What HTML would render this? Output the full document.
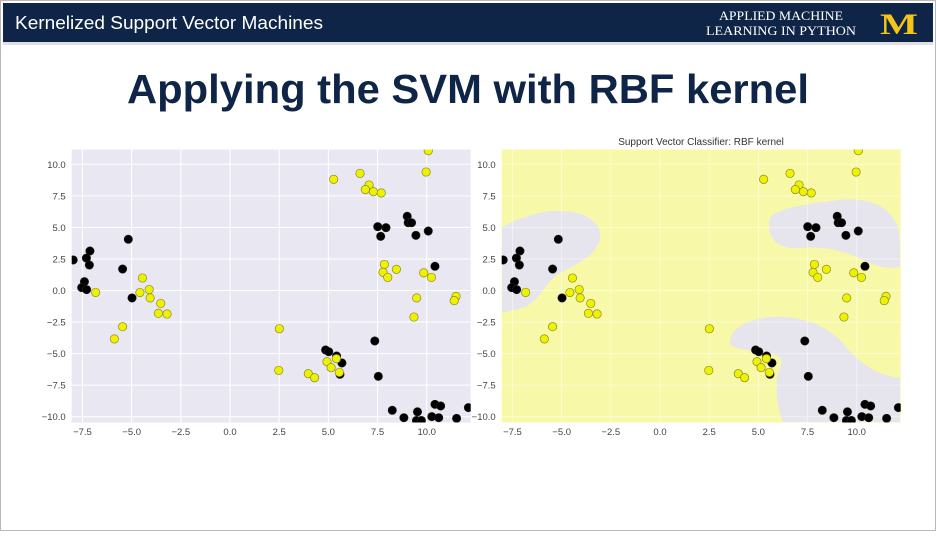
<!DOCTYPE html>
<html><head><meta charset="utf-8">
<style>
html,body{margin:0;padding:0;background:#fff;}
body{width:936px;height:531px;position:relative;overflow:hidden;font-family:"Liberation Sans",sans-serif;}
</style></head>
<body>
<svg width="936" height="531" viewBox="0 0 936 531" xmlns="http://www.w3.org/2000/svg">
  <rect x="0.5" y="0.5" width="935" height="530" fill="#fff" stroke="#b8b8b8"/>
  <rect x="3" y="3" width="930" height="39" fill="#0f2547"/>
  <rect x="3" y="42" width="930" height="3" fill="#c9ccd2" opacity="0.6"/>
  <text x="15" y="29" fill="#fff" font-size="18" textLength="308" lengthAdjust="spacingAndGlyphs">Kernelized Support Vector Machines</text>
  <text x="781" y="20" fill="#fff" font-size="12.5" text-anchor="middle" font-family="Liberation Serif,serif" textLength="124" lengthAdjust="spacingAndGlyphs">APPLIED MACHINE</text>
  <text x="781" y="35" fill="#fff" font-size="12.5" text-anchor="middle" font-family="Liberation Serif,serif" textLength="150" lengthAdjust="spacingAndGlyphs">LEARNING IN PYTHON</text>
  <text x="899" y="34" fill="#f5c518" font-size="30" font-weight="bold" text-anchor="middle" font-family="Liberation Serif,serif" textLength="38" lengthAdjust="spacingAndGlyphs">M</text>
  <text x="468" y="103" fill="#0f2547" font-size="41" font-weight="bold" text-anchor="middle" textLength="682" lengthAdjust="spacingAndGlyphs">Applying the SVM with RBF kernel</text>
  <text x="701" y="145" fill="#333" font-size="10" text-anchor="middle">Support Vector Classifier: RBF kernel</text>
  <g id="left"></g>
  <g id="right"></g>
</svg>
<script>
const xTicks = [-7.5,-5.0,-2.5,0.0,2.5,5.0,7.5,10.0];
const yTicks = [-10.0,-7.5,-5.0,-2.5,0.0,2.5,5.0,7.5,10.0];
const class0X = [-7.97,-5.17,-7.12,-7.30,-7.15,-5.46,-7.40,-7.54,-7.29,-4.98,9.01,9.06,9.23,7.51,7.93,7.66,9.45,10.08,10.42,7.36,4.86,5.02,5.42,5.69,5.59,7.54,8.25,8.84,9.53,9.48,9.73,10.26,10.42,10.71,10.61,11.52,12.12];
const class0Y = [2.42,4.06,3.13,2.57,2.02,1.70,0.70,0.23,0.07,-0.59,5.88,5.37,5.37,5.06,4.98,4.29,4.37,4.71,1.92,-4.0,-4.71,-4.85,-5.19,-5.74,-6.64,-6.80,-9.49,-10.08,-9.61,-10.3,-10.3,-9.99,-9.02,-9.15,-10.08,-10.13,-9.28];
const class1X = [-6.83,-4.45,-4.58,-4.11,-4.06,-3.52,-3.64,-3.20,-5.46,-5.88,10.08,9.97,6.61,5.27,7.07,6.88,7.29,7.69,7.85,8.46,7.78,8.02,9.85,10.24,9.49,11.49,11.40,9.35,2.51,2.48,3.98,4.30,4.93,5.14,5.41,5.56];
const class1Y = [-0.15,0.99,-0.16,0.08,-0.59,-1.02,-1.81,-1.86,-2.87,-3.84,11.08,9.39,9.28,8.81,8.36,8.0,7.83,7.73,2.07,1.68,1.44,1.04,1.4,1.04,-0.59,-0.46,-0.8,-2.10,-3.03,-6.33,-6.59,-6.91,-5.64,-6.11,-5.40,-6.49];

const NS='http://www.w3.org/2000/svg';
function mk(tag, attrs, parent){const e=document.createElementNS(NS,tag);for(const k in attrs)e.setAttribute(k,attrs[k]);parent.appendChild(e);return e;}

function drawPlot(g, ox, prefix, withRegions){
  const L=ox, R=ox+399, T=149.5, B=422.5;
  const sx=v=>ox+158.3+v*19.67;
  const sy=v=>290.5-v*12.62;
  const bg=mk('rect',{x:L,y:T,width:R-L,height:B-T,fill:withRegions?'#f8f9a8':'#e9e7f1'},g);
  
  
  if(withRegions){
    const blobs=[
      'M502,227 C515,220 540,210 560,211 C585,211 602,222 600,238 C598,255 575,265 560,273 C545,282 540,300 525,307 L502,313 Z',
      'M770,217 C780,208 810,203 840,200 C865,197 885,205 893,218 C900,228 900,232 900,267 C885,270 870,264 855,256 C840,250 820,246 800,248 C780,250 765,240 770,217 Z',
      'M730,345 C728,330 745,320 770,317 C800,315 825,325 840,340 C855,358 870,374 900,378 L900,422 L783,422 C778,410 776,395 777,378 C778,368 786,362 778,356 C765,350 745,353 730,345 Z'
    ];
    blobs.forEach((d,i)=>{
      const p=mk('path',{d:d,fill:'#e6e4ec'},g);
      
      
    });
  }
  const gridCol=withRegions?'rgba(255,255,255,0.45)':'#fff';
  xTicks.forEach(t=>{
    const x=sx(t);
    const l=mk('line',{x1:x,x2:x,y1:T,y2:B,stroke:gridCol,'stroke-width':1},g);
    
    
    const tx=mk('text',{x:x,y:435,'font-size':9.5,fill:'#444','text-anchor':'middle'},g);
    tx.textContent=t.toFixed(1).replace('-','\u2212');
    
    
  });
  yTicks.forEach(t=>{
    const y=sy(t);
    const l=mk('line',{x1:L,x2:R,y1:y,y2:y,stroke:gridCol,'stroke-width':1},g);
    
    
    const tx=mk('text',{x:L-6,y:y+3.5,'font-size':9.5,fill:'#444','text-anchor':'end'},g);
    tx.textContent=t.toFixed(1).replace('-','\u2212');
    
    
  });
  const clip=mk('clipPath',{id:prefix+'clip'},g);
  mk('rect',{x:L,y:T,width:R-L,height:B-T},clip);
  const pts=mk('g',{'clip-path':'url(#'+prefix+'clip)'},g);
  class0X.forEach((v,i)=>{
    const c=mk('circle',{cx:sx(v),cy:sy(class0Y[i]),r:4.2,fill:'#000',stroke:'#222','stroke-width':0.6},pts);
    
    
  });
  class1X.forEach((v,i)=>{
    const c=mk('circle',{cx:sx(v),cy:sy(class1Y[i]),r:4.2,fill:'#eef200',stroke:'#8a8a20','stroke-width':0.7},pts);
    
    
  });
}
drawPlot(document.getElementById('left'),71.7,'left',false);
drawPlot(document.getElementById('right'),501.7,'right',true);
</script>
</body></html>
